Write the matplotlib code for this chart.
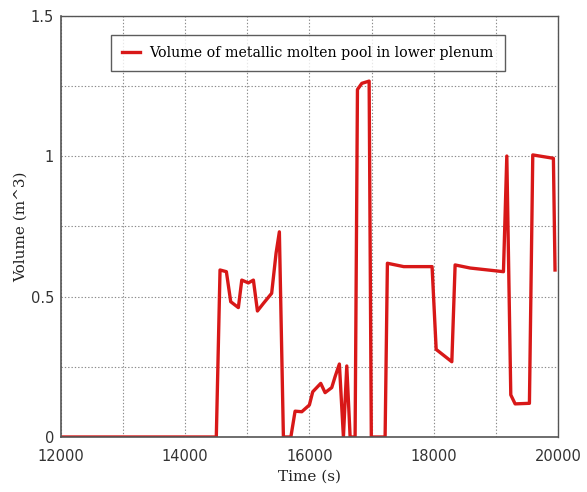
import numpy as np
import matplotlib

matplotlib.use("Agg")
import matplotlib.pyplot as plt
from matplotlib.ticker import MultipleLocator, FormatStrFormatter

# Metallic molten pool volume in the lower plenum over time
time_s = [12000, 14500, 14560, 14662, 14732, 14855, 14910, 15016, 15097, 15162,
          15258, 15391, 15462, 15515, 15580, 15700, 15768, 15876, 15998, 16052,
          16181, 16251, 16358, 16412, 16481, 16546, 16600, 16654, 16734, 16772,
          16842, 16960, 16995, 17217, 17254, 17517, 17973, 18039, 18291, 18344,
          18586, 19122, 19176, 19240, 19310, 19540, 19594, 19926, 19952]
volume_m3 = [0.0, 0.0, 0.595, 0.589, 0.482, 0.461, 0.559, 0.549, 0.559, 0.449,
             0.476, 0.512, 0.655, 0.731, 0.0, 0.0, 0.092, 0.090, 0.114, 0.161,
             0.191, 0.158, 0.176, 0.215, 0.260, 0.0, 0.253, 0.0, 0.0, 1.238,
             1.260, 1.268, 0.0, 0.0, 0.619, 0.607, 0.607, 0.312, 0.268, 0.613,
             0.602, 0.589, 1.001, 0.150, 0.118, 0.120, 1.005, 0.993, 0.595]

series_label = "Volume of metallic molten pool in lower plenum"

fig = plt.figure(figsize=(5.87, 4.92), dpi=100)
ax = fig.add_axes([0.1039, 0.1118, 0.8467, 0.8557])

ax.plot(time_s, volume_m3, color="#d81818", linewidth=2.4, label=series_label)

ax.set_xlim(12000, 20000)
ax.set_ylim(0, 1.5)
ax.xaxis.set_major_locator(MultipleLocator(2000))
ax.xaxis.set_minor_locator(MultipleLocator(1000))
ax.yaxis.set_major_locator(MultipleLocator(0.5))
ax.yaxis.set_minor_locator(MultipleLocator(0.25))
ax.yaxis.set_major_formatter(FormatStrFormatter("%g"))

ax.grid(True, which="both", linestyle=(0, (1.2, 1.8)), color="#8a8a8a", linewidth=0.8)
ax.tick_params(which="both", length=0, labelsize=10.5, colors="#333333")
ax.tick_params(axis="x", pad=9)
ax.tick_params(axis="y", pad=5)
for lbl in ax.get_xticklabels() + ax.get_yticklabels():
    lbl.set_family("DejaVu Sans")

for side in ["left", "bottom"]:
    ax.spines[side].set_color("#555555")
    ax.spines[side].set_linewidth(1.2)
for side in ["top", "right"]:
    ax.spines[side].set_color("#555555")
    ax.spines[side].set_linewidth(1.0)

ax.set_xlabel("Time (s)", family="DejaVu Serif", fontsize=11, color="#222222", labelpad=4)
ax.set_ylabel("Volume (m^3)", family="DejaVu Serif", fontsize=11, color="#222222", labelpad=2)

leg = ax.legend(loc="upper left", bbox_to_anchor=(0.1, 0.956), frameon=True,
                fancybox=False, edgecolor="#333333", handlelength=1.3,
                borderpad=0.8, handletextpad=0.6, borderaxespad=0.0,
                prop={"family": "DejaVu Serif", "size": 10.2})
leg.get_frame().set_linewidth(1.0)

fig.savefig("out.png", dpi=100)
